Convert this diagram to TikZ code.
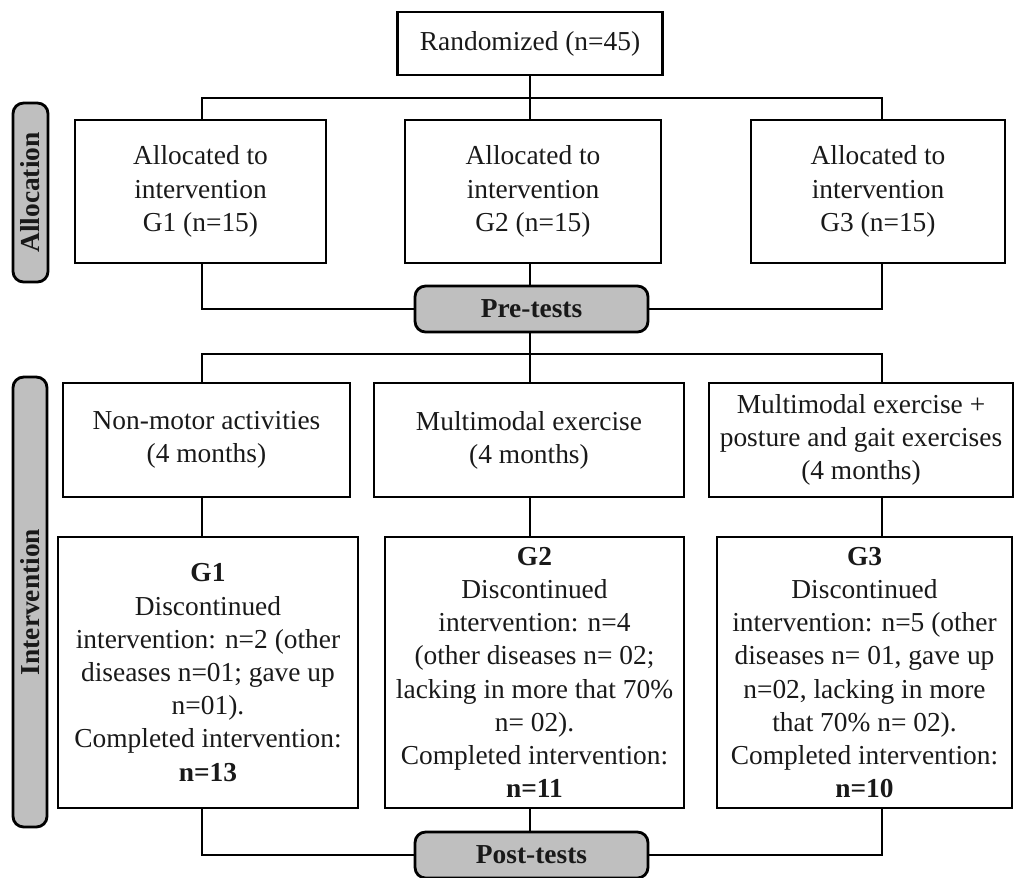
\documentclass[tikz,border=0pt]{standalone}
\usepackage{fontspec}
\setmainfont{Liberation Serif}
\begin{document}
\begin{tikzpicture}[x=0.02cm,y=-0.02cm,
  font=\fontsize{15.6}{18.9}\selectfont,
  box/.style={draw, line width=1.6pt, align=center, inner sep=0pt, text=black!90},
  grp/.style={draw, line width=1.6pt, rounded corners=6pt, fill=gray!50, align=center,
    font=\fontsize{15.6}{18.9}\selectfont\bfseries, inner sep=0pt, text=black!90},
  conn/.style={line width=1.6pt}]
\useasboundingbox (0,0) rectangle (1016,877);

\coordinate (xL) at (202,0);
\coordinate (xM) at (530,0);
\coordinate (xR) at (882,0);
\coordinate (hA) at (530,98);
\coordinate (hB) at (530,354);

\node[box, minimum width=5.3cm, minimum height=1.26cm] (rand) at (530,43.5) {Randomized (n=45)};

\node[box, minimum width=5.02cm, minimum height=2.86cm] (a1) at (200.5,191.5) {Allocated to\\intervention\\G1 (n=15)};
\node[box, minimum width=5.12cm, minimum height=2.86cm] (a2) at (533,191.5) {Allocated to\\intervention\\G2 (n=15)};
\node[box, minimum width=5.08cm, minimum height=2.86cm] (a3) at (878,191.5) {Allocated to\\intervention\\G3 (n=15)};

\node[grp, minimum width=4.66cm, minimum height=0.92cm] (pre) at (531.5,309) {Pre-tests};

\node[box, minimum width=5.74cm, minimum height=2.28cm] (i1) at (206.5,440) {Non-motor activities\\(4 months)};
\node[box, minimum width=6.2cm, minimum height=2.28cm] (i2) at (529,440) {Multimodal exercise\\(4 months)};
\node[box, minimum width=6.08cm, minimum height=2.28cm] (i3) at (861,440) {Multimodal exercise +\\posture and gait exercises\\(4 months)};

\node[box, minimum width=6.0cm, minimum height=5.42cm] (l1) at (208,672.5)
  {\textbf{G1}\\Discontinued\\intervention: n=2 (other\\diseases n=01; gave up\\n=01).\\Completed intervention:\\\textbf{n=13}};
\node[box, minimum width=5.98cm, minimum height=5.42cm] (l2) at (534.5,672.5)
  {\textbf{G2}\\Discontinued\\intervention: n=4\\(other diseases n= 02;\\lacking in more that 70\%\\n= 02).\\Completed intervention:\\\textbf{n=11}};
\node[box, minimum width=5.9cm, minimum height=5.42cm] (l3) at (864.5,672.5)
  {\textbf{G3}\\Discontinued\\intervention: n=5 (other\\diseases n= 01, gave up\\n=02, lacking in more\\that 70\% n= 02).\\Completed intervention:\\\textbf{n=10}};

\node[grp, minimum width=4.66cm, minimum height=0.92cm] (post) at (531.5,855) {Post-tests};

\node[grp, rotate=90, minimum width=3.58cm, minimum height=0.7cm] (sideA) at (30.5,192.5) {Allocation};
\node[grp, rotate=90, minimum width=9.0cm, minimum height=0.68cm] (sideI) at (30,602) {Intervention};

% connectors
\draw[conn] (rand.south -| xM) -- (a2.north -| xM);
\draw[conn] (a1.north -| xL) |- (hA) -| (a3.north -| xR);
\draw[conn] (a1.south -| xL) |- (pre.west);
\draw[conn] (a3.south -| xR) |- (pre.east);
\draw[conn] (a2.south -| xM) -- (pre.north -| xM);
\draw[conn] (pre.south -| xM) -- (i2.north -| xM);
\draw[conn] (i1.north -| xL) |- (hB) -| (i3.north -| xR);
\draw[conn] (i1.south -| xL) -- (l1.north -| xL);
\draw[conn] (i2.south -| xM) -- (l2.north -| xM);
\draw[conn] (i3.south -| xR) -- (l3.north -| xR);
\draw[conn] (l1.south -| xL) |- (post.west);
\draw[conn] (l3.south -| xR) |- (post.east);
\draw[conn] (l2.south -| xM) -- (post.north -| xM);
\end{tikzpicture}
\end{document}
